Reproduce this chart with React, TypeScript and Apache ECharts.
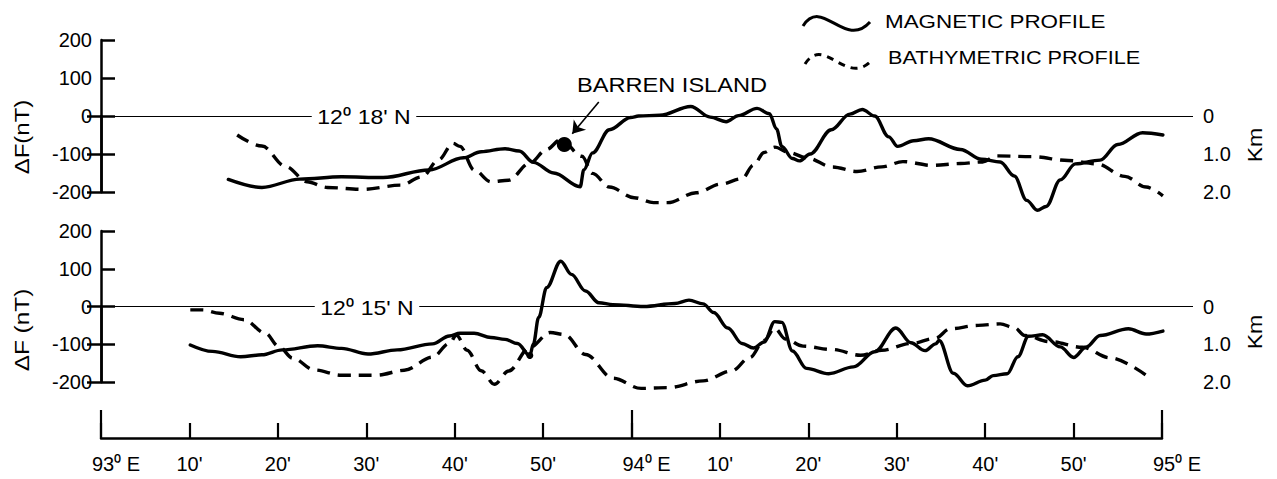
import React, { useEffect, useRef } from 'react';
import * as echarts from 'echarts';

// x values are minutes of longitude east of 93°00' E
const xTickLabels = ["93⁰ E", "10'", "20'", "30'", "40'", "50'", "94⁰ E", "10'", "20'", "30'", "40'", "50'", "95⁰ E"];
const kmLabels = ['0', '1.0', '2.0'];
const profileTitles = ["12⁰ 18' N", "12⁰ 15' N"];
const legendNames = ['MAGNETIC PROFILE', 'BATHYMETRIC PROFILE'];
const axisNames = ['ΔF(nT)', 'ΔF (nT)', 'Km'];
const annotation = 'BARREN ISLAND';

// 12° 18' N : magnetic anomaly (nT)
const magnetic1218 = [
  [14.4, -167], [18.2, -188], [22.5, -166], [27.2, -160], [31.9, -162], [37.1, -142], [41.0, -110],
  [43.0, -94], [45.7, -86], [47.3, -92], [48.9, -122], [51.2, -150], [54.2, -186], [54.6, -142],
  [55.6, -97], [57.5, -36], [59.9, -4], [60.8, 0], [63.2, 2], [66.7, 25], [68.9, -3], [70.7, -15],
  [72.1, 1], [74.2, 20], [75.6, 6], [76.4, -34], [77.0, -80], [78.2, -112], [79.0, -118], [80.2, -100],
  [82.6, -36], [84.7, 5], [86.1, 17], [87.5, 0], [89.1, -55], [90.1, -80], [91.9, -65], [93.6, -60],
  [97.2, -88], [99.6, -114], [101.7, -121], [103.3, -158], [104.7, -222], [105.9, -248], [106.9, -238],
  [108.5, -168], [110.2, -126], [113.0, -116], [115.0, -75], [117.8, -44], [120.1, -50]
];

// 12° 18' N : depth (km)
const bathy1218 = [
  [15.4, 0.50], [18.2, 0.79], [20.9, 1.33], [23.3, 1.73], [25.6, 1.88], [29.6, 1.93], [33.9, 1.82],
  [36.3, 1.60], [38.2, 1.15], [39.8, 0.72], [40.6, 0.80], [42.2, 1.42], [44.1, 1.73], [46.1, 1.69],
  [48.5, 1.24], [50.4, 0.88], [52.0, 0.62], [54.4, 1.06], [55.6, 1.51], [57.5, 1.87], [60.3, 2.15],
  [62.5, 2.28], [64.1, 2.28], [67.3, 2.02], [70.1, 1.79], [72.5, 1.65], [73.8, 1.29], [75.0, 0.96],
  [76.2, 0.82], [77.8, 0.96], [79.8, 1.10], [82.7, 1.34], [85.5, 1.46], [88.3, 1.34], [90.7, 1.20],
  [94.0, 1.30], [97.2, 1.25], [99.7, 1.21], [101.3, 1.05], [105.3, 1.07], [109.4, 1.17], [112.6, 1.26],
  [115.8, 1.59], [118.2, 1.87], [120.1, 2.10]
];

// 12° 15' N : magnetic anomaly (nT)
const magnetic1215 = [
  [10.1, -102], [12.6, -119], [15.8, -133], [18.2, -128], [20.5, -115], [24.5, -104], [27.2, -111],
  [30.2, -126], [33.5, -115], [37.5, -99], [39.4, -78], [40.6, -71], [42.2, -71], [44.1, -82],
  [45.7, -87], [47.1, -98], [48.5, -130], [48.9, -99], [49.5, -29], [50.4, 50], [52.0, 120], [53.2, 85],
  [54.8, 41], [56.3, 10], [57.9, 5], [61.4, 0], [64.9, 8], [66.5, 17], [68.1, 7], [69.3, -16],
  [70.9, -57], [72.5, -98], [73.8, -110], [75.0, -94], [76.2, -40], [77.0, -42], [78.2, -118],
  [79.8, -164], [82.3, -178], [85.1, -160], [87.5, -120], [89.9, -57], [91.6, -96], [93.2, -117],
  [94.4, -99], [94.8, -90], [96.4, -177], [98.0, -210], [100.0, -195], [100.9, -183], [102.5, -178],
  [103.7, -133], [104.9, -79], [106.5, -75], [108.5, -107], [110.0, -135], [111.4, -108], [113.0, -77],
  [116.2, -59], [118.2, -73], [120.1, -65]
];

// 12° 15' N : depth (km)
const bathy1215 = [
  [10.1, 0.09], [11.5, 0.09], [13.4, 0.18], [16.2, 0.35], [18.6, 0.71], [20.1, 1.06], [21.7, 1.37],
  [24.1, 1.68], [27.2, 1.82], [31.2, 1.82], [34.3, 1.69], [37.5, 1.34], [39.4, 0.98], [40.2, 0.76],
  [41.4, 1.16], [43.0, 1.70], [44.5, 2.06], [46.1, 1.71], [48.5, 1.08], [50.8, 0.69], [52.4, 0.74],
  [54.8, 1.27], [57.9, 1.90], [61.1, 2.17], [64.1, 2.15], [68.1, 1.97], [71.3, 1.71], [73.4, 1.35],
  [75.0, 0.90], [76.2, 0.58], [77.4, 0.86], [79.4, 1.05], [82.7, 1.14], [85.9, 1.29], [88.3, 1.16],
  [91.6, 0.98], [94.4, 0.84], [96.0, 0.59], [99.2, 0.50], [101.7, 0.46], [103.3, 0.56], [104.5, 0.77],
  [107.3, 0.93], [111.0, 1.08], [114.1, 1.36], [118.2, 1.82]
];

const barrenIsland = [[52.4, -75]];
const barrenArrow = [[56.3, 37], [53.3, -47]];
const mark1215 = [[48.5, -130]];

const FONT = '"Liberation Sans", Arial, Helvetica, sans-serif';
const BLACK = '#000';
const FS = 20;

const PANEL_LEFT = 101;
const AXIS_WIDTH = 1061; // 0..120 minutes
const PANEL_WIDTH = 1092;
const PANEL_MAX = (120 * PANEL_WIDTH) / AXIS_WIDTH;

function panelAxes(gridNT: number, gridKm: number) {
  const xa = [gridNT, gridKm].map((g) => ({
    gridIndex: g, type: 'value', min: 0, max: PANEL_MAX, show: false,
  }));
  const ya = [
    {
      gridIndex: gridNT, type: 'value', min: -200, max: 200, interval: 100, position: 'left',
      axisLine: { show: true, lineStyle: { color: BLACK, width: 2.5 } },
      axisTick: { show: true, inside: true, length: 14, lineStyle: { color: BLACK, width: 2.5 } },
      axisLabel: { color: BLACK, fontSize: FS, fontFamily: FONT, margin: 9 },
      splitLine: { show: false },
    },
    {
      gridIndex: gridKm, type: 'value', min: 0, max: 2, interval: 1, inverse: true, position: 'right',
      axisLine: { show: true, lineStyle: { color: BLACK, width: 2.5 } },
      axisTick: { show: true, inside: true, length: 14, lineStyle: { color: BLACK, width: 2.5 } },
      axisLabel: {
        color: BLACK, fontSize: FS, fontFamily: FONT, margin: 10,
        formatter: (v: number) => kmLabels[Math.round(v)] ?? '',
      },
      splitLine: { show: false },
    },
  ];
  return { xa, ya };
}

const top = panelAxes(0, 1);
const bot = panelAxes(2, 3);

const zeroLine = {
  silent: true,
  symbol: ['none', 'none'],
  label: { show: false },
  lineStyle: { color: BLACK, width: 1.2, type: 'solid' },
  data: [{ yAxis: 0 }],
};

function magSeries(data: number[][], xi: number, yi: number) {
  return {
    type: 'line', xAxisIndex: xi, yAxisIndex: yi, data, symbol: 'none', smooth: 0.35,
    smoothMonotone: 'x', clip: false,
    lineStyle: { color: BLACK, width: 3.4, cap: 'round', join: 'round' },
    markLine: zeroLine, z: 3,
  };
}

function bathySeries(data: number[][], xi: number, yi: number) {
  return {
    type: 'line', xAxisIndex: xi, yAxisIndex: yi, data, symbol: 'none', smooth: 0.35,
    smoothMonotone: 'x', clip: false,
    lineStyle: { color: BLACK, width: 3.4, type: [13, 8], cap: 'butt' }, z: 3,
  };
}

function txt(text: string, x: number, y: number, opts: any = {}) {
  return {
    type: 'text', x, y, z: 100, rotation: opts.rotation || 0, scaleX: opts.scaleX || 1,
    style: {
      text, fill: BLACK, fontSize: opts.fontSize || FS, fontFamily: FONT,
      textAlign: opts.align || 'center', textVerticalAlign: 'middle', verticalAlign: 'middle',
      backgroundColor: opts.bg, padding: opts.padding,
    },
  };
}

const option: any = {
  animation: false,
  backgroundColor: '#fff',
  grid: [
    { left: PANEL_LEFT, top: 40, width: PANEL_WIDTH, height: 152 },
    { left: PANEL_LEFT, top: 116, width: PANEL_WIDTH, height: 76 },
    { left: PANEL_LEFT, top: 231, width: PANEL_WIDTH, height: 151 },
    { left: PANEL_LEFT, top: 306.5, width: PANEL_WIDTH, height: 75.5 },
    { left: PANEL_LEFT, top: 380, width: AXIS_WIDTH, height: 58 },
  ],
  xAxis: [
    ...top.xa,
    ...bot.xa,
    {
      gridIndex: 4, type: 'value', min: 0, max: 120, interval: 10, position: 'bottom',
      axisLine: { show: true, lineStyle: { color: BLACK, width: 2.5 } },
      axisTick: { show: true, inside: true, length: 15, lineStyle: { color: BLACK, width: 2.2 } },
      axisLabel: {
        color: BLACK, fontSize: FS, fontFamily: FONT, margin: 16,
        formatter: (v: number) => {
          const s = xTickLabels[Math.round(v / 10)] ?? '';
          return s.indexOf('E') >= 0 ? `{deg|${s}}` : s;
        },
        rich: { deg: { color: BLACK, fontSize: FS, fontFamily: FONT, padding: [0, 0, 0, 30] } },
      },
      splitLine: { show: false },
    },
    {
      gridIndex: 4, type: 'value', min: 0, max: 120, interval: 60, position: 'bottom',
      axisLine: { show: false },
      axisTick: { show: true, inside: true, length: 28, lineStyle: { color: BLACK, width: 2.2 } },
      axisLabel: { show: false },
      splitLine: { show: false },
    },
  ],
  yAxis: [
    ...top.ya,
    ...bot.ya,
    { gridIndex: 4, type: 'value', min: 0, max: 1, show: false },
  ],
  series: [
    magSeries(magnetic1218, 0, 0),
    bathySeries(bathy1218, 1, 1),
    {
      type: 'scatter', xAxisIndex: 0, yAxisIndex: 0, data: barrenIsland, symbolSize: 15,
      itemStyle: { color: BLACK, opacity: 1 }, z: 5,
      markLine: {
        silent: true, symbol: ['none', 'arrow'], symbolSize: 12, label: { show: false },
        lineStyle: { color: BLACK, width: 1.6, type: 'solid' },
        data: [[{ coord: barrenArrow[0] }, { coord: barrenArrow[1] }]],
      },
    },
    magSeries(magnetic1215, 2, 2),
    bathySeries(bathy1215, 3, 3),
    {
      type: 'scatter', xAxisIndex: 2, yAxisIndex: 2, data: mark1215, symbolSize: 7,
      itemStyle: { color: BLACK, opacity: 1 }, z: 5,
    },
    { type: 'line', xAxisIndex: 4, yAxisIndex: 4, data: [] },
  ],
  graphic: [
    // zero-line titles
    txt(profileTitles[0], 364, 117, { scaleX: 1.15, bg: '#fff', padding: [0, 5] }),
    txt(profileTitles[1], 367, 308, { scaleX: 1.15, bg: '#fff', padding: [0, 5] }),
    // axis names
    txt(axisNames[0], 22, 137, { rotation: Math.PI / 2, scaleX: 1.2 }),
    txt(axisNames[1], 22, 330, { rotation: Math.PI / 2, scaleX: 1.22 }),
    txt(axisNames[2], 1255, 145, { rotation: Math.PI / 2, scaleX: 1.15 }),
    txt(axisNames[2], 1255, 332, { rotation: Math.PI / 2, scaleX: 1.15 }),
    // annotation
    txt(annotation, 672, 85, { scaleX: 1.18 }),
    // legend
    {
      type: 'bezierCurve', z: 100,
      shape: { x1: 803, y1: 26, cpx1: 822, cpy1: -4, cpx2: 845, cpy2: 50, x2: 870, y2: 22 },
      style: { stroke: BLACK, lineWidth: 3, fill: 'none' },
    },
    {
      type: 'bezierCurve', z: 100,
      shape: { x1: 805, y1: 64, cpx1: 824, cpy1: 34, cpx2: 847, cpy2: 88, x2: 872, y2: 60 },
      style: { stroke: BLACK, lineWidth: 3, fill: 'none', lineDash: [7, 6] },
    },
    txt(legendNames[0], 885, 21, { align: 'left', fontSize: 19, scaleX: 1.18 }),
    txt(legendNames[1], 888, 57, { align: 'left', fontSize: 19, scaleX: 1.14 }),
  ],
};

export default function App() {
  const ref = useRef<HTMLDivElement>(null);
  useEffect(() => {
    if (!ref.current) return;
    const chart = echarts.init(ref.current, null, { renderer: 'svg' });
    chart.setOption(option);
    return () => chart.dispose();
  }, []);
  return (
    <div
      ref={ref}
      style={{ position: 'absolute', left: 0, top: 0, width: 1277, height: 479, background: '#fff' }}
    />
  );
}
